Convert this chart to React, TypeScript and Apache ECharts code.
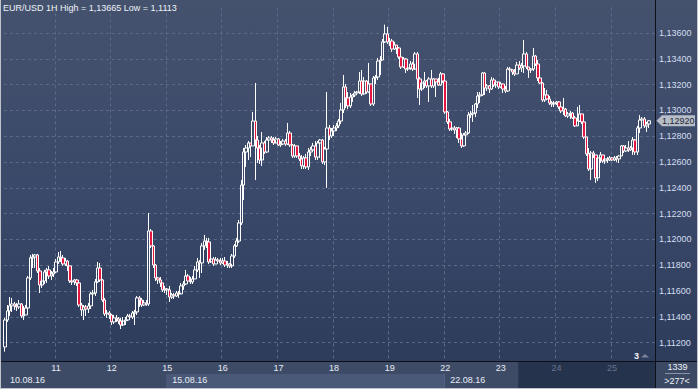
import React, { useEffect, useRef } from 'react';
import * as echarts from 'echarts';

const FONT = '"Liberation Sans", Arial, sans-serif';

// Trading days shown (hourly bars), first day starts at 02:00, last day ends at 16:00
const dayDates = ['10.08.16', '11.08.16', '12.08.16', '15.08.16', '16.08.16', '17.08.16', '18.08.16', '19.08.16', '22.08.16', '23.08.16', '24.08.16', '25.08.16'];
const firstHour = 2;
const lastHour = 16;
const weekStartDates = ['10.08.16', '15.08.16', '22.08.16'];
const fadedDates = ['24.08.16', '25.08.16'];
const scrollStartKey = '23.08.16 08:00';
const padBars = 2;

const firstOpen = 1.11167;

const closes = [
  // 10.08
  1.11376, 1.11446, 1.11485, 1.11500, 1.11485, 1.11477, 1.11500, 1.11407, 1.11415, 1.11469, 1.11702, 1.11857, 1.11864, 1.11880, 1.11756, 1.11647, 1.11678, 1.11748, 1.11764, 1.11717, 1.11733, 1.11748,
  // 11.08
  1.11826, 1.11864, 1.11857, 1.11810, 1.11833, 1.11795, 1.11678, 1.11671, 1.11686, 1.11663, 1.11492, 1.11454, 1.11477, 1.11461, 1.11485, 1.11578, 1.11585, 1.11671, 1.11779, 1.11686, 1.11531, 1.11423, 1.11430, 1.11415,
  // 12.08
  1.11361, 1.11392, 1.11384, 1.11368, 1.11337, 1.11368, 1.11376, 1.11407, 1.11399, 1.11430, 1.11438, 1.11547, 1.11531, 1.11492, 1.11508, 1.11500, 1.12066, 1.11950, 1.11802, 1.11702, 1.11686, 1.11663, 1.11609, 1.11616,
  // 15.08
  1.11609, 1.11554, 1.11570, 1.11562, 1.11585, 1.11578, 1.11640, 1.11655, 1.11717, 1.11678, 1.11671, 1.11694, 1.11764, 1.11826, 1.11818, 1.11950, 1.11988, 1.11981, 1.11826, 1.11849, 1.11810, 1.11841, 1.11833, 1.11818,
  // 16.08
  1.11833, 1.11802, 1.11810, 1.11795, 1.11872, 1.11950, 1.11988, 1.12128, 1.12422, 1.12678, 1.12709, 1.12748, 1.12725, 1.12918, 1.12771, 1.12709, 1.12616, 1.12748, 1.12678, 1.12771, 1.12787, 1.12771, 1.12748, 1.12779,
  // 17.08
  1.12732, 1.12740, 1.12763, 1.12740, 1.12825, 1.12732, 1.12647, 1.12725, 1.12647, 1.12624, 1.12570, 1.12632, 1.12562, 1.12678, 1.12694, 1.12725, 1.12639, 1.12748, 1.12771, 1.12601, 1.12701, 1.12864, 1.12802, 1.12841,
  // 18.08
  1.12864, 1.12880, 1.12918, 1.13004, 1.13182, 1.13097, 1.13035, 1.13104, 1.13120, 1.13135, 1.13143, 1.13228, 1.13128, 1.13228, 1.13143, 1.13205, 1.13050, 1.13252, 1.13259, 1.13383, 1.13391, 1.13531, 1.13593, 1.13531,
  // 19.08
  1.13538, 1.13476, 1.13507, 1.13484, 1.13414, 1.13337, 1.13399, 1.13321, 1.13329, 1.13360, 1.13321, 1.13438, 1.13244, 1.13166, 1.13213, 1.13228, 1.13190, 1.13244, 1.13190, 1.13244, 1.13221, 1.13197, 1.13283, 1.13228,
  // 22.08
  1.12988, 1.12911, 1.12856, 1.12864, 1.12849, 1.12864, 1.12779, 1.12725, 1.12810, 1.12825, 1.12965, 1.12973, 1.12980, 1.13050, 1.13112, 1.13120, 1.13290, 1.13174, 1.13190, 1.13166, 1.13236, 1.13197, 1.13221, 1.13182,
  // 23.08
  1.13205, 1.13166, 1.13151, 1.13321, 1.13314, 1.13298, 1.13283, 1.13352, 1.13329, 1.13345, 1.13438, 1.13337, 1.13314, 1.13321, 1.13422, 1.13360, 1.13252, 1.13213, 1.13081, 1.13120, 1.13089, 1.13058, 1.13050, 1.13058,
  // 24.08
  1.13066, 1.13027, 1.12996, 1.13011, 1.12957, 1.12973, 1.12980, 1.12942, 1.12880, 1.12918, 1.12973, 1.12911, 1.12794, 1.12663, 1.12546, 1.12670, 1.12655, 1.12477, 1.12632, 1.12655, 1.12608, 1.12624, 1.12616, 1.12632,
  // 25.08
  1.12616, 1.12632, 1.12624, 1.12647, 1.12725, 1.12686, 1.12709, 1.12694, 1.12709, 1.12771, 1.12678, 1.12864, 1.12926, 1.12934, 1.12880, 1.12895, 1.12920,
];

const highs = [
  1.11392, 1.11492, 1.11554, 1.11547, 1.11516, 1.11508, 1.11531, 1.11508, 1.11485, 1.11492, 1.11717, 1.11880, 1.11888, 1.11888, 1.11888, 1.11779, 1.11702, 1.11764, 1.11779, 1.11795, 1.11756, 1.11779,
  1.11849, 1.11903, 1.11911, 1.11880, 1.11857, 1.11841, 1.11795, 1.11694, 1.11694, 1.11694, 1.11678, 1.11508, 1.11492, 1.11492, 1.11508, 1.11593, 1.11609, 1.11694, 1.11826, 1.11818, 1.11694, 1.11547, 1.11454, 1.11446,
  1.11423, 1.11415, 1.11415, 1.11399, 1.11392, 1.11399, 1.11399, 1.11423, 1.11423, 1.11446, 1.11454, 1.11562, 1.11562, 1.11547, 1.11531, 1.11531, 1.12205, 1.12081, 1.11957, 1.11810, 1.11709, 1.11709, 1.11663, 1.11640,
  1.11624, 1.11640, 1.11585, 1.11585, 1.11601, 1.11601, 1.11663, 1.11678, 1.11764, 1.11733, 1.11709, 1.11717, 1.11795, 1.11857, 1.11841, 1.11973, 1.12035, 1.12012, 1.12012, 1.11872, 1.11864, 1.11864, 1.11857, 1.11857,
  1.11857, 1.11864, 1.11833, 1.11818, 1.11888, 1.11965, 1.12012, 1.12151, 1.12461, 1.12709, 1.12732, 1.12763, 1.12748, 1.12988, 1.13213, 1.12802, 1.12732, 1.12833, 1.12763, 1.12794, 1.12802, 1.12802, 1.12794, 1.12794,
  1.12787, 1.12763, 1.12779, 1.12779, 1.12903, 1.12841, 1.12740, 1.12740, 1.12717, 1.12670, 1.12655, 1.12647, 1.12663, 1.12709, 1.12717, 1.12748, 1.12763, 1.12763, 1.12779, 1.12779, 1.12717, 1.13143, 1.12887, 1.12864,
  1.12887, 1.12903, 1.12934, 1.13058, 1.13275, 1.13205, 1.13143, 1.13135, 1.13128, 1.13151, 1.13151, 1.13298, 1.13314, 1.13259, 1.13236, 1.13368, 1.13190, 1.13267, 1.13275, 1.13407, 1.13422, 1.13554, 1.13665, 1.13647,
  1.13562, 1.13554, 1.13531, 1.13507, 1.13492, 1.13422, 1.13414, 1.13407, 1.13345, 1.13383, 1.13376, 1.13453, 1.13453, 1.13259, 1.13228, 1.13298, 1.13236, 1.13259, 1.13314, 1.13252, 1.13236, 1.13252, 1.13298, 1.13290,
  1.13128, 1.12996, 1.12934, 1.12880, 1.12880, 1.12872, 1.12872, 1.12825, 1.12825, 1.12841, 1.12988, 1.12996, 1.13042, 1.13058, 1.13143, 1.13143, 1.13298, 1.13298, 1.13205, 1.13197, 1.13259, 1.13252, 1.13236, 1.13213,
  1.13221, 1.13205, 1.13190, 1.13337, 1.13337, 1.13321, 1.13321, 1.13376, 1.13383, 1.13368, 1.13546, 1.13453, 1.13337, 1.13329, 1.13484, 1.13430, 1.13391, 1.13290, 1.13221, 1.13174, 1.13159, 1.13112, 1.13073, 1.13073,
  1.13073, 1.13073, 1.13035, 1.13097, 1.13019, 1.12988, 1.12996, 1.12988, 1.12957, 1.13027, 1.13042, 1.12973, 1.12926, 1.12794, 1.12709, 1.12686, 1.12686, 1.12655, 1.12647, 1.12678, 1.12655, 1.12639, 1.12639, 1.12647,
  1.12639, 1.12647, 1.12647, 1.12655, 1.12732, 1.12732, 1.12732, 1.12763, 1.12725, 1.12794, 1.12779, 1.12880, 1.12965, 1.12949, 1.12949, 1.12911, 1.12926,
];

const lows = [
  1.11130, 1.11361, 1.11407, 1.11438, 1.11454, 1.11446, 1.11461, 1.11392, 1.11376, 1.11430, 1.11438, 1.11686, 1.11779, 1.11779, 1.11740, 1.11585, 1.11624, 1.11655, 1.11663, 1.11694, 1.11686, 1.11709,
  1.11740, 1.11810, 1.11826, 1.11795, 1.11795, 1.11756, 1.11663, 1.11647, 1.11647, 1.11640, 1.11477, 1.11407, 1.11376, 1.11407, 1.11430, 1.11461, 1.11516, 1.11562, 1.11663, 1.11671, 1.11516, 1.11407, 1.11392, 1.11384,
  1.11337, 1.11345, 1.11361, 1.11345, 1.11306, 1.11330, 1.11337, 1.11368, 1.11376, 1.11384, 1.11337, 1.11415, 1.11477, 1.11477, 1.11485, 1.11485, 1.11485, 1.11934, 1.11779, 1.11678, 1.11655, 1.11632, 1.11593, 1.11585,
  1.11570, 1.11516, 1.11539, 1.11539, 1.11554, 1.11547, 1.11578, 1.11609, 1.11647, 1.11663, 1.11655, 1.11655, 1.11694, 1.11748, 1.11702, 1.11740, 1.11919, 1.11934, 1.11810, 1.11818, 1.11795, 1.11810, 1.11810, 1.11802,
  1.11810, 1.11787, 1.11779, 1.11779, 1.11779, 1.11857, 1.11942, 1.11973, 1.12112, 1.12306, 1.12562, 1.12616, 1.12639, 1.12725, 1.12461, 1.12593, 1.12585, 1.12570, 1.12663, 1.12670, 1.12748, 1.12748, 1.12732, 1.12756,
  1.12725, 1.12717, 1.12732, 1.12725, 1.12732, 1.12717, 1.12632, 1.12632, 1.12632, 1.12608, 1.12546, 1.12546, 1.12546, 1.12539, 1.12647, 1.12694, 1.12616, 1.12616, 1.12632, 1.12585, 1.12577, 1.12399, 1.12771, 1.12787,
  1.12802, 1.12841, 1.12864, 1.12895, 1.12980, 1.13019, 1.13011, 1.13019, 1.13066, 1.13104, 1.13120, 1.13128, 1.13112, 1.13120, 1.13128, 1.13135, 1.13035, 1.13035, 1.13205, 1.13236, 1.13275, 1.13391, 1.13523, 1.13515,
  1.13500, 1.13453, 1.13469, 1.13438, 1.13399, 1.13321, 1.13329, 1.13290, 1.13306, 1.13314, 1.13306, 1.13314, 1.13097, 1.13042, 1.13151, 1.13174, 1.13174, 1.13066, 1.13174, 1.13174, 1.13104, 1.13190, 1.13190, 1.13213,
  1.12973, 1.12895, 1.12841, 1.12841, 1.12818, 1.12787, 1.12748, 1.12709, 1.12717, 1.12725, 1.12818, 1.12942, 1.12911, 1.12949, 1.13019, 1.13058, 1.13112, 1.13120, 1.13151, 1.13135, 1.13159, 1.13182, 1.13174, 1.13166,
  1.13174, 1.13135, 1.13135, 1.13143, 1.13283, 1.13275, 1.13267, 1.13283, 1.13314, 1.13298, 1.13290, 1.13321, 1.13252, 1.13290, 1.13306, 1.13345, 1.13228, 1.13205, 1.13066, 1.13066, 1.13081, 1.13042, 1.13027, 1.13027,
  1.13042, 1.13011, 1.12980, 1.12965, 1.12949, 1.12942, 1.12934, 1.12934, 1.12872, 1.12880, 1.12911, 1.12895, 1.12779, 1.12647, 1.12531, 1.12461, 1.12632, 1.12438, 1.12453, 1.12593, 1.12593, 1.12585, 1.12593, 1.12608,
  1.12608, 1.12608, 1.12601, 1.12593, 1.12647, 1.12670, 1.12678, 1.12678, 1.12686, 1.12655, 1.12655, 1.12655, 1.12825, 1.12864, 1.12864, 1.12833, 1.12864,
];

const titleText = 'EUR/USD 1H High = 1,13665 Low = 1,1113';
const barTotalText = '1339';
const barVisibleText = '>277<';
const markerText = '3';

const yMin = 1.11058;
const yMax = 1.13799;
const yStep = 0.002;

type Cat = { key: string; date: string; hour: number };
const cats: Cat[] = [];
dayDates.forEach((d, di) => {
  const h0 = di === 0 ? firstHour : 0;
  const h1 = di === dayDates.length - 1 ? lastHour : 23;
  for (let h = h0; h <= h1; h++) cats.push({ key: `${d} ${String(h).padStart(2, '0')}:00`, date: d, hour: h });
});
for (let p = 0; p < padBars; p++) cats.push({ key: `pad${p}`, date: '', hour: -1 });
const keys = cats.map((c) => c.key);
const catByKey: Record<string, Cat> = {};
cats.forEach((c) => (catByKey[c.key] = c));

const candles = closes.map((c, i) => {
  const o = i === 0 ? firstOpen : closes[i - 1];
  return [o, c, Math.min(lows[i], o, c), Math.max(highs[i], o, c)];
});

const fmtPrice = (v: number) => v.toFixed(5).replace('.', ',');

export default function App() {
  const ref = useRef<HTMLDivElement>(null);
  useEffect(() => {
    document.body.style.margin = '0';
    const el = ref.current!;
    const chart = echarts.init(el, null, { renderer: 'svg' });
    const W = 698;
    const H = 389;
    const gridLeft = 3.9;
    const gridRight = 43.1;
    const gridTop = 7.35;
    const gridBottom = 28;
    const plotRight = W - gridRight;
    const plotBottom = H - gridBottom;
    const gridLine = { color: '#5a6a89', width: 1, type: [3, 3] as any };

    chart.setOption({
      animation: false,
      grid: { left: gridLeft, right: gridRight, top: gridTop, bottom: gridBottom, outerBoundsMode: 'none' } as any,
      xAxis: [
        {
          type: 'category',
          data: keys,
          boundaryGap: true,
          axisLine: { show: false },
          axisTick: { show: false },
          axisLabel: {
            interval: (i: number) => cats[i] && cats[i].hour === 0,
            formatter: (v: string) => (catByKey[v] ? catByKey[v].date.slice(0, 2) : ''),
            color: (v: string) => (catByKey[v] && fadedDates.includes(catByKey[v].date) ? '#66738d' : '#e8edf5'),
            fontSize: 9,
            fontFamily: FONT,
            margin: 2,
          },
          splitLine: { show: true, interval: (i: number) => !!cats[i] && cats[i].hour === 0, lineStyle: gridLine },
        },
        {
          type: 'category',
          data: keys,
          boundaryGap: true,
          position: 'bottom',
          offset: 12,
          axisLine: { show: false },
          axisTick: { show: false },
          splitLine: { show: false },
          axisLabel: {
            interval: (i: number) => {
              const c = cats[i];
              if (!c || !weekStartDates.includes(c.date)) return false;
              return i === 0 || cats[i - 1].date !== c.date;
            },
            formatter: (v: string) => (catByKey[v] ? catByKey[v].date : ''),
            align: 'left',
            padding: [0, 0, 0, 5],
            color: '#e8edf5',
            fontSize: 9,
            fontFamily: FONT,
            margin: 2,
          },
        },
      ],
      yAxis: {
        type: 'value',
        position: 'right',
        min: yMin,
        max: yMax,
        splitNumber: Math.round((yMax - yMin) / yStep),
        axisLine: { show: false },
        axisTick: { show: false },
        axisLabel: {
          showMinLabel: false,
          showMaxLabel: false,
          formatter: (v: number) => (Math.abs(v / yStep - Math.round(v / yStep)) > 1e-6 ? '' : fmtPrice(v)),
          color: '#d3dff0',
          fontSize: 9,
          fontFamily: FONT,
          margin: 4,
        },
        splitLine: { show: true, showMinLine: false, showMaxLine: false, lineStyle: gridLine } as any,
      },
      series: [
        {
          type: 'candlestick',
          data: candles,
          barWidth: 3,
          itemStyle: {
            color: 'rgba(0,0,0,0)',
            color0: '#e3173f',
            borderColor: '#ffffff',
            borderColor0: '#ffffff',
            borderColorDoji: '#ffffff',
            borderWidth: 1,
          } as any,
        },
      ],
    });

    const cx = (i: number) => chart.convertToPixel({ xAxisIndex: 0 }, keys[i]) as unknown as number;
    const band = cx(1) - cx(0);
    const edge = (i: number) => cx(i) - band / 2;
    const firstIdxOf = (date: string) => cats.findIndex((c) => c.date === date);
    const week2X = edge(firstIdxOf(weekStartDates[1]));
    const week3X = edge(firstIdxOf(weekStartDates[2]));
    const scrollX = edge(keys.indexOf(scrollStartKey));
    const lastClose = closes[closes.length - 1];
    const tagY = chart.convertToPixel({ yAxisIndex: 0 }, lastClose) as unknown as number;

    const txt = (x: number, y: number, text: string, fill: string, align = 'left', vAlign = 'top', weight = 'normal') => ({
      type: 'text',
      x,
      y,
      z: 60,
      silent: true,
      style: {
        text,
        fill,
        font: `${weight} 9px ${FONT}`,
        align,
        textAlign: align,
        verticalAlign: vAlign,
        textVerticalAlign: vAlign,
      },
    });
    const line = (x1: number, y1: number, x2: number, y2: number, stroke: string, z = 55) => ({
      type: 'line',
      z,
      silent: true,
      shape: { x1, y1, x2, y2 },
      style: { stroke, lineWidth: 1 },
    });
    const rect = (x: number, y: number, w: number, h: number, fill: string, z = -10) => ({
      type: 'rect',
      z,
      silent: true,
      shape: { x, y, width: w, height: h },
      style: { fill },
    });

    chart.setOption({
      graphic: [
        rect(0, plotBottom, plotRight, H - plotBottom, '#3d4b67', -10),
        rect(week2X, plotBottom + 13, week3X - week2X, H - plotBottom - 13, '#4a5977', -9),
        line(week3X + 0.5, plotBottom + 13, week3X + 0.5, H, '#56658a', -8),
        rect(scrollX, plotBottom, plotRight - scrollX, H - plotBottom, '#26334d', -7),
        rect(plotRight, plotBottom, W - plotRight, H - plotBottom, '#3b4965', -10),
        line(0, plotBottom + 0.5, W, plotBottom + 0.5, '#0d1018'),
        line(Math.round(plotRight) + 0.5, 0, Math.round(plotRight) + 0.5, H, '#0d1018'),
        line(0.5, 0, 0.5, H, '#bfc4cc', 58),
        line(W - 0.5, 0, W - 0.5, H, '#bfc4cc', 58),
        line(0, H - 0.5, W, H - 0.5, '#bfc4cc', 58),
        txt(3, 3, titleText, '#eef2f8'),
        txt(639, 351, markerText, '#f2f4f8', 'right', 'top', 'bold'),
        {
          type: 'polygon',
          z: 60,
          silent: true,
          shape: { points: [[641, 357.5], [645, 354], [649, 357.5]] },
          style: { fill: '#7b8498' },
        },
        txt(677.5, 366.5, barTotalText, '#eef2f8', 'center', 'middle'),
        line(665, 373.5, 690, 373.5, '#8a93a5', 60),
        txt(677, 380.5, barVisibleText, '#eef2f8', 'center', 'middle'),
        {
          type: 'polygon',
          z: 70,
          silent: true,
          shape: { points: [[656.5, tagY], [662, tagY - 5.5], [695, tagY - 5.5], [695, tagY + 5.5], [662, tagY + 5.5]] },
          style: { fill: '#b7bec9' },
        },
        { ...txt(662, tagY + 0.5, fmtPrice(lastClose), '#1f2733', 'left', 'middle'), z: 71 },
      ],
    } as any);

    return () => chart.dispose();
  }, []);

  return (
    <div
      ref={ref}
      style={{
        width: 698,
        height: 389,
        background: 'linear-gradient(180deg, #45526e 0%, #3a4869 50%, #2c3a5a 100%)',
      }}
    />
  );
}
